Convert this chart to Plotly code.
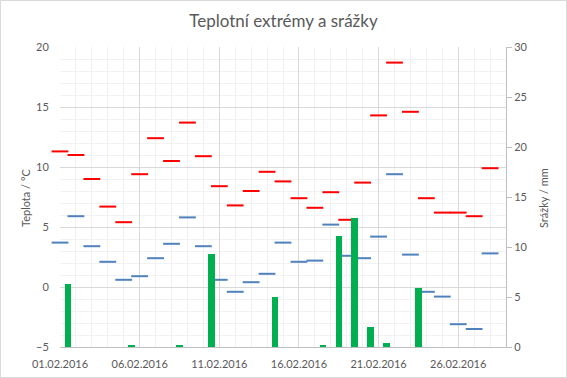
import pandas as pd
import plotly.graph_objects as go

dates = pd.date_range("2016-02-01", "2016-02-28", freq="D")
tmax = [11.3, 11.0, 9.0, 6.7, 5.4, 9.4, 12.4, 10.5, 13.7, 10.9, 8.4, 6.8, 8.0, 9.6,
        8.8, 7.4, 6.6, 7.9, 5.6, 8.7, 14.3, 18.7, 14.6, 7.4, 6.2, 6.2, 5.9, 9.9]
tmin = [3.7, 5.9, 3.4, 2.1, 0.6, 0.9, 2.4, 3.6, 5.8, 3.4, 0.6, -0.4, 0.4, 1.1,
        3.7, 2.1, 2.2, 5.2, 2.6, 2.4, 4.2, 9.4, 2.7, -0.4, -0.8, -3.1, -3.5, 2.8]
precip = [6.3, 0, 0, 0, 0.2, 0, 0, 0.2, 0, 9.3, 0, 0, 0, 5.0,
          0, 0, 0.2, 11.1, 12.9, 2.0, 0.4, 0, 5.9, 0, 0, 0, 0, 0]
tick_dates = ["2016-02-01", "2016-02-06", "2016-02-11", "2016-02-16", "2016-02-21", "2016-02-26"]
tick_text = ["01.02.2016", "06.02.2016", "11.02.2016", "16.02.2016", "21.02.2016", "26.02.2016"]

FONT = "Lato"
TXT = "#595959"
DAY_MS = 86400000

W, H = 567, 378
L, R, T, B = 60, 61, 47, 31
pw, ph = W - L - R, H - T - B

fig = go.Figure()
fig.add_trace(go.Bar(
    x=dates + pd.Timedelta(hours=12), y=precip, yaxis="y2",
    marker=dict(color="#00b050", line=dict(width=0)),
    width=0.4 * DAY_MS, name="Srážky"))
fig.add_trace(go.Scatter(
    x=dates, y=tmax, mode="markers", name="Max", cliponaxis=False,
    marker=dict(symbol="line-ew", size=12, line=dict(color="#ff0000", width=2))))
fig.add_trace(go.Scatter(
    x=dates, y=tmin, mode="markers", name="Min", cliponaxis=False,
    marker=dict(symbol="line-ew", size=12, line=dict(color="#4f81bd", width=2))))

fig.update_layout(
    width=W, height=H,
    margin=dict(l=L, r=R, t=T, b=B, pad=0, autoexpand=False),
    paper_bgcolor="white", plot_bgcolor="white",
    showlegend=False,
    font=dict(family=FONT, size=11, color=TXT),
    title=dict(text="Teplotní extrémy a srážky", x=0.5, xanchor="center",
               y=1 - 21 / H, yanchor="middle", font=dict(family=FONT, size=17, color=TXT)),
    xaxis=dict(
        type="date", range=["2016-02-01", "2016-02-29"], automargin=False,
        tickmode="array", tickvals=tick_dates, ticktext=tick_text,
        showgrid=True, gridcolor="#d9d9d9", gridwidth=1,
        minor=dict(dtick=DAY_MS, tick0="2016-02-01", showgrid=True, gridcolor="#f2f2f2", gridwidth=1),
        showline=True, linecolor="#bfbfbf", linewidth=1,
        ticks="outside", ticklen=7, tickcolor="rgba(0,0,0,0)",
        zeroline=False, tickfont=dict(size=11, color=TXT),
    ),
    yaxis=dict(
        range=[-5, 20], dtick=5, tick0=0, automargin=False,
        showgrid=True, gridcolor="#d9d9d9", gridwidth=1,
        minor=dict(dtick=1, showgrid=True, gridcolor="#f2f2f2", gridwidth=1),
        showline=False, zeroline=False,
        ticks="outside", ticklen=8, tickcolor="rgba(0,0,0,0)",
        tickfont=dict(size=11, color=TXT),
    ),
    yaxis2=dict(
        range=[0, 30], dtick=5, tick0=0, overlaying="y", side="right", automargin=False,
        showgrid=False, zeroline=False,
        showline=True, linecolor="#bfbfbf", linewidth=1,
        ticks="outside", ticklen=5, tickcolor="#bfbfbf",
        tickfont=dict(size=11, color=TXT),
    ),
    bargap=0,
)

fig.add_annotation(text="Teplota / °C", xref="paper", yref="paper",
                   x=(25 - L) / pw, y=(H - B - 198) / ph, textangle=-90,
                   showarrow=False, xanchor="center", yanchor="middle",
                   font=dict(family=FONT, size=11, color=TXT))
fig.add_annotation(text="Srážky / mm", xref="paper", yref="paper",
                   x=(543 - L) / pw, y=(H - B - 198) / ph, textangle=-90,
                   showarrow=False, xanchor="center", yanchor="middle",
                   font=dict(family=FONT, size=11, color=TXT))
fig.add_shape(type="rect", xref="paper", yref="paper",
              x0=(0.5 - L) / pw, x1=(W - 0.5 - L) / pw,
              y0=(H - B - (H - 0.5)) / ph, y1=(H - B - 0.5) / ph,
              line=dict(color="#d9d9d9", width=1), fillcolor="rgba(0,0,0,0)", layer="below")

fig.write_html("out.html", config={"displayModeBar": False},
               post_script="document.body.style.margin='0px';document.body.style.overflow='hidden';")
